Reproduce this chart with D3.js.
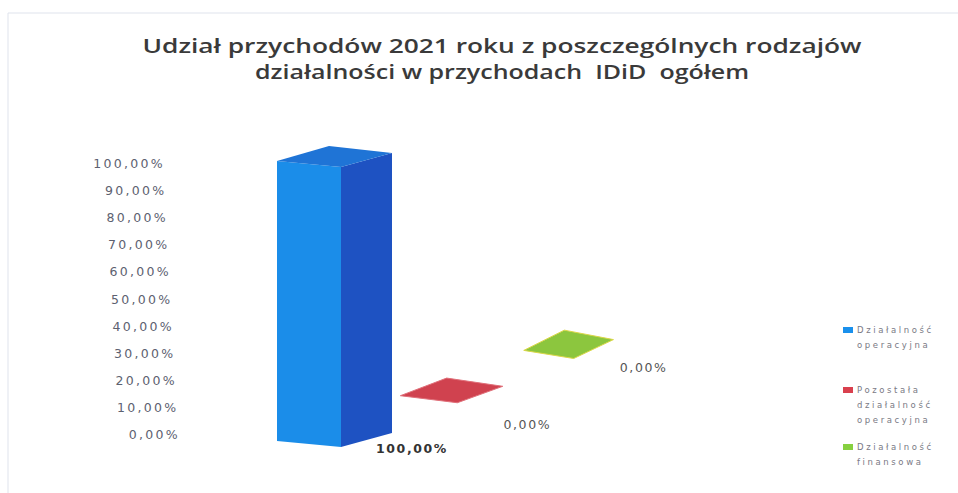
<!DOCTYPE html>
<html>
<head>
<meta charset="utf-8">
<script src="https://cdn.jsdelivr.net/npm/d3@7"></script>
<style>
  body { margin: 0; background: #fff; }
  svg { display: block; }
  text { white-space: pre; }
</style>
</head>
<body>
<div id="chart"></div>
<script>
// chart data
const titleLines = ["Udział przychodów 2021 roku z poszczególnych rodzajów", "działalności w przychodach  IDiD  ogółem"];
const categories = ["Działalność operacyjna", "Pozostała działalność operacyjna", "Działalność finansowa"];
const legendLines = [["Działalność", "operacyjna"], ["Pozostała", "działalność", "operacyjna"], ["Działalność", "finansowa"]];
const values = [1.0, 0.0, 0.0];
const valueLabels = ["100,00%", "0,00%", "0,00%"];
const yTicks = [0, 0.1, 0.2, 0.3, 0.4, 0.5, 0.6, 0.7, 0.8, 0.9, 1.0];
const yTickLabels = ["0,00%", "10,00%", "20,00%", "30,00%", "40,00%", "50,00%", "60,00%", "70,00%", "80,00%", "90,00%", "100,00%"];

// colours per series: front, side, top
const colors = [
    {front: "#1b8de9", side: "#1e52c2", top: "#1f74d6", legend: "#1a90ec"},
    {front: "#d4434f", side: "#b83440", top: "#d0424f", legend: "#d9404e"},
    {front: "#8ec73f", side: "#7ab534", top: "#8cc63e", legend: "#86d040"}
];

const W = 958, H = 493;

const svg = d3.select("#chart").append("svg")
    .attr("width", W)
    .attr("height", H);

// faint scan border
svg.append("path")
    .attr("d", "M8," + H + " L8,13 L" + W + ",13")
    .attr("fill", "none")
    .attr("stroke", "#dfe3ec")
    .attr("stroke-width", 1);

// title
const title = svg.append("g").attr("class", "title");
const titleWidths = [719, 494];
title.selectAll("text")
    .data(titleLines)
    .join("text")
    .attr("x", 502)
    .attr("y", (d, i) => 53 + i * 26)
    .attr("text-anchor", "middle")
    .attr("font-family", "'Open Sans', sans-serif")
    .attr("font-size", 20)
    .attr("font-weight", 600)
    .attr("fill", "#3a3a3a")
    .attr("textLength", (d, i) => titleWidths[i])
    .attr("lengthAdjust", "spacingAndGlyphs")
    .text(d => d);

// y axis labels (skewed, like the 3d plot)
const yLabel = d3.scaleLinear().domain([0, 1]).range([439, 168]);
const xLabel = d3.scaleLinear().domain([0, 1]).range([180, 165]);

svg.append("g").attr("class", "axis axis--y")
    .selectAll("text")
    .data(yTicks)
    .join("text")
    .attr("x", d => xLabel(d))
    .attr("y", d => yLabel(d))
    .attr("text-anchor", "end")
    .attr("font-family", "'DejaVu Sans', sans-serif")
    .attr("font-size", 12.5)
    .attr("letter-spacing", 2.3)
    .attr("fill", "#5d6170")
    .text((d, i) => yTickLabels[i]);

// scales for the 3d bars
const cx = d3.scalePoint().domain(categories).range([335, 569]);
const cy = d3.scalePoint().domain(categories).range([437, 345]);
const shrink = d3.scalePoint().domain(categories).range([1, 0.78]);
const tilt = d3.scalePoint().domain(categories).range([1, 1.35]);
const h = d3.scaleLinear().domain([0, 1]).range([0, 280]);

// footprint corners relative to the centre: front-left, front-right, back-right, back-left
const foot = [[-58, 4], [6, 10], [57, -4], [-6, -11]];

function corners(cat, lift) {
    let k = shrink(cat), t = tilt(cat);
    return foot.map(p => [cx(cat) + p[0] * k, cy(cat) + p[1] * t - lift]);
}

const bars = svg.append("g").attr("class", "bars")
    .selectAll("g")
    .data(categories)
    .join("g");

bars.each(function (cat, i) {
    let g = d3.select(this);
    let v = values[i];
    let bottom = corners(cat, 0);
    let top = corners(cat, h(v));
    let line = d3.line();

    if (v > 0) {
        // front face
        g.append("path")
            .attr("d", line([bottom[0], bottom[1], top[1], top[0]]) + "Z")
            .attr("fill", colors[i].front);
        // side face
        g.append("path")
            .attr("d", line([bottom[1], bottom[2], top[2], top[1]]) + "Z")
            .attr("fill", colors[i].side);
    }
    // top face
    g.append("path")
        .attr("d", line(top) + "Z")
        .attr("fill", colors[i].top)
        .attr("stroke", v > 0 ? "none" : (i === 2 ? "#dcd84a" : "#e0707a"))
        .attr("stroke-width", 1);
});

// data labels
svg.append("g").attr("class", "labels")
    .selectAll("text")
    .data(categories)
    .join("text")
    .attr("x", (d, i) => cx(d) + 6 * shrink(d) + (i === 0 ? 71 : 70))
    .attr("y", (d, i) => cy(d) + 10 * tilt(d) + (i === 0 ? 6 : (i === 1 ? 26 : 13)))
    .attr("text-anchor", "middle")
    .attr("font-family", "'DejaVu Sans', sans-serif")
    .attr("font-size", 12.5)
    .attr("font-weight", (d, i) => i === 0 ? "bold" : "normal")
    .attr("letter-spacing", 1.6)
    .attr("fill", (d, i) => i === 0 ? "#333" : "#555")
    .text((d, i) => valueLabels[i]);

// legend
const legendY = [331, 391, 448];
const legend = svg.append("g").attr("class", "legend")
    .selectAll("g")
    .data(categories)
    .join("g")
    .attr("transform", (d, i) => "translate(843," + legendY[i] + ")");

legend.append("rect")
    .attr("x", 0)
    .attr("y", -4)
    .attr("width", 10)
    .attr("height", 6)
    .attr("fill", (d, i) => colors[i].legend);

legend.each(function (d, i) {
    d3.select(this).selectAll("text")
        .data(legendLines[i])
        .join("text")
        .attr("x", 14)
        .attr("y", (t, j) => 2 + j * 15)
        .attr("font-family", "'DejaVu Sans', sans-serif")
        .attr("font-size", 8.5)
        .attr("letter-spacing", 2.6)
        .attr("fill", "#7a7a85")
        .text(t => t);
});
</script>
</body>
</html>
